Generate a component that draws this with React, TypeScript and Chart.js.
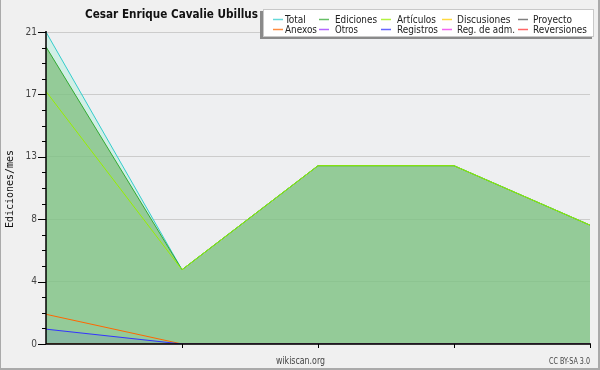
import React, { useEffect, useRef } from "react";
import { Chart, registerables } from "chart.js";

Chart.register(...registerables);

const TITLE = "Cesar Enrique Cavalie Ubillus";
const Y_TITLE = "Ediciones/mes";
const X_LABELS = ["1", "2", "3", "4", "5"];
const Y_TICKS = [0, 4.2, 8.4, 12.6, 16.8, 21];
const Y_TICK_LABELS = ["0", "4", "8", "13", "17", "21"];

const TOTAL = [21, 5, 12, 12, 8];
const EDICIONES = [20, 5, 12, 12, 8];
const ARTICULOS = [17, 5, 12, 12, 8];
const DISCUSIONES = [0, 0, 0, 0, 0];
const PROYECTO = [0, 0, 0, 0, 0];
const ANEXOS = [2, 0, 0, 0, 0];
const OTROS = [0, 0, 0, 0, 0];
const REGISTROS = [1, 0, 0, 0, 0];
const REG_ADM = [0, 0, 0, 0, 0];
const REVERSIONES = [0, 0, 0, 0, 0];

const LEGEND_COL_X = [273, 319, 381, 442, 518];
const LEGEND_TEXT_X = [285, 335, 397, 457, 533];
const LEGEND_TEXT_END = [
  [308, 377, 436, 511, 573],
  [317, 358, 438, 515, 587],
];

const COND = "'DejaVu Sans Condensed', 'DejaVu Sans'";

const ds = (label: string, data: number[], color: string, order: number, fill: any = false, bg = "transparent") => ({
  label,
  data,
  borderColor: color,
  backgroundColor: bg,
  borderWidth: 1,
  pointRadius: 0,
  tension: 0,
  fill,
  order,
});

const fitText = (ctx: any, text: string, x: number, y: number, w: number) => {
  const nat = ctx.measureText(text).width;
  ctx.fillText(text, x, y, Math.min(nat, w));
};

const decorPlugin = {
  id: "decor",
  beforeDraw(chart: any) {
    const { ctx, chartArea: a } = chart;
    ctx.save();
    ctx.fillStyle = "#f0f0f0";
    ctx.fillRect(0, 0, chart.width, chart.height);
    ctx.fillStyle = "#eeeff1";
    ctx.fillRect(a.left, a.top, a.right - a.left, a.bottom - a.top);
    ctx.fillStyle = "#aaaaaa";
    ctx.fillRect(0, 0, 1, 369);
    ctx.fillRect(598, 0, 2, 370);
    ctx.fillRect(0, 368, 600, 2);
    ctx.restore();
  },
  afterDatasetsDraw(chart: any) {
    const { ctx, chartArea: a } = chart;
    const y = chart.scales.y;
    const x = chart.scales.x;
    ctx.save();
    // axes
    ctx.strokeStyle = "#000";
    ctx.lineWidth = 1.5;
    ctx.beginPath();
    ctx.moveTo(a.left, a.top - 1);
    ctx.lineTo(a.left, a.bottom);
    ctx.lineTo(a.right + 1, a.bottom);
    ctx.stroke();
    ctx.lineWidth = 1;
    // y ticks
    for (let i = 0; i <= 20; i++) {
      const v = (i * 21) / 20;
      const py = Math.round(y.getPixelForValue(v)) + 0.5;
      const major = i % 4 === 0;
      ctx.beginPath();
      ctx.moveTo(a.left - (major ? 8 : 4), py);
      ctx.lineTo(a.left, py);
      ctx.stroke();
    }
    // x ticks
    for (let i = 1; i < X_LABELS.length; i++) {
      const px = Math.round(x.getPixelForValue(i)) + 0.5;
      ctx.beginPath();
      ctx.moveTo(px, a.bottom);
      ctx.lineTo(px, a.bottom + 4);
      ctx.stroke();
    }
    // y labels
    ctx.fillStyle = "#444";
    ctx.font = "10px " + COND;
    ctx.textAlign = "right";
    ctx.textBaseline = "middle";
    Y_TICKS.forEach((v, i) => {
      ctx.fillText(Y_TICK_LABELS[i], 37, y.getPixelForValue(v));
    });
    // y title
    ctx.save();
    ctx.translate(10, 189);
    ctx.rotate(-Math.PI / 2);
    ctx.textAlign = "center";
    ctx.fillStyle = "#111";
    ctx.font = "11px 'DejaVu Sans Mono'";
    ctx.fillText(Y_TITLE, 0, 0, 78);
    ctx.restore();
    // title
    ctx.fillStyle = "#111";
    ctx.font = "bold 12px " + COND;
    ctx.textAlign = "left";
    ctx.textBaseline = "alphabetic";
    fitText(ctx, TITLE, 85, 18, 173);
    // footer
    ctx.fillStyle = "#444";
    ctx.font = "10px " + COND;
    ctx.textBaseline = "middle";
    fitText(ctx, "wikiscan.org", 276, 361, 49);
    ctx.font = "8px " + COND;
    fitText(ctx, "CC BY-SA 3.0", 549, 362, 41);
    // legend
    ctx.fillStyle = "#8a8a8a";
    ctx.fillRect(260, 11, 332, 28);
    ctx.fillStyle = "#fff";
    ctx.fillRect(263, 9, 331, 28);
    ctx.strokeStyle = "#c8c8c8";
    ctx.strokeRect(263.5, 9.5, 330, 27);
    ctx.font = "10px " + COND;
    ctx.textBaseline = "middle";
    chart.data.datasets.forEach((d: any, i: number) => {
      const row = Math.floor(i / 5);
      const col = i % 5;
      const ly = 19 + row * 10;
      ctx.strokeStyle = d.borderColor;
      ctx.globalAlpha = 0.75;
      ctx.lineWidth = 1.5;
      ctx.beginPath();
      ctx.moveTo(LEGEND_COL_X[col], ly + 0.5);
      ctx.lineTo(LEGEND_COL_X[col] + 10, ly + 0.5);
      ctx.stroke();
      ctx.globalAlpha = 1;
      ctx.fillStyle = "#222";
      fitText(ctx, d.label, LEGEND_TEXT_X[col], ly + 1, LEGEND_TEXT_END[row][col] - LEGEND_TEXT_X[col]);
    });
    ctx.restore();
  },
};

export default function App() {
  const ref = useRef<HTMLCanvasElement>(null);
  useEffect(() => {
    if (!ref.current) return;
    const chart = new Chart(ref.current, {
      type: "line",
      data: {
        labels: X_LABELS,
        datasets: [
          ds("Total", TOTAL, "#33cccc", 10, "origin", "rgba(180,240,220,0.5)"),
          ds("Ediciones", EDICIONES, "#33aa33", 9, "origin", "rgba(106,179,100,0.6)"),
          ds("Artículos", ARTICULOS, "#99ee00", 3),
          ds("Discusiones", DISCUSIONES, "#ffcc00", 5),
          ds("Proyecto", PROYECTO, "#555555", 5),
          ds("Anexos", ANEXOS, "#ff6600", 2),
          ds("Otros", OTROS, "#9933ff", 5),
          ds("Registros", REGISTROS, "#3333ff", 1, "origin", "rgba(51,51,255,0.1)"),
          ds("Reg. de adm.", REG_ADM, "#ee33ee", 5),
          ds("Reversiones", REVERSIONES, "#ff3333", 5),
        ],
      },
      options: {
        responsive: false,
        animation: false,
        devicePixelRatio: 1,
        layout: { padding: { left: 46, right: 10, top: 32, bottom: 26 } },
        plugins: { legend: { display: false }, tooltip: { enabled: false }, title: { display: false } },
        scales: {
          x: {
            type: "category",
            offset: false,
            grid: { display: false, drawTicks: false },
            border: { display: false },
            ticks: { display: false },
            afterFit: (s: any) => { s.height = 0; },
          },
          y: {
            min: 0,
            max: 21,
            grid: { color: "#cccccc", lineWidth: 1, drawTicks: false },
            border: { display: false },
            ticks: { display: false },
            afterBuildTicks: (s: any) => { s.ticks = Y_TICKS.map((v) => ({ value: v })); },
            afterFit: (s: any) => { s.width = 0; },
          },
        },
      },
      plugins: [decorPlugin],
    });
    return () => chart.destroy();
  }, []);
  return (
    <div style={{ position: "fixed", left: 0, top: 0, width: 600, height: 370 }}>
      <canvas ref={ref} width={600} height={370} style={{ display: "block", width: 600, height: 370 }} />
    </div>
  );
}
